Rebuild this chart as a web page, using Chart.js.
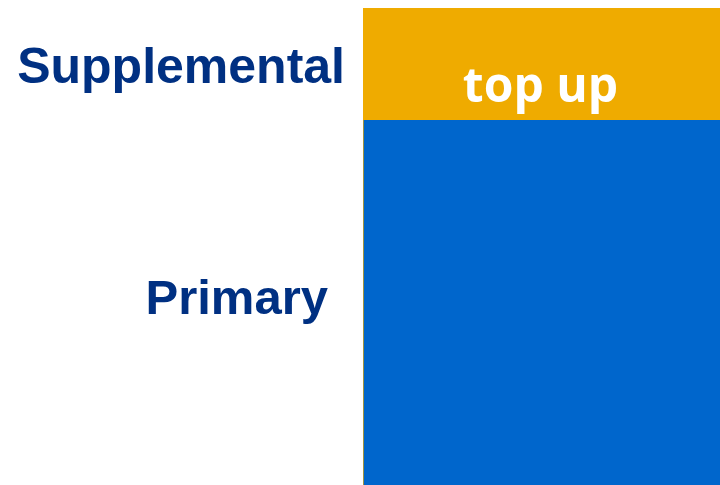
<!DOCTYPE html>
<html>
<head>
<meta charset="utf-8">
<script src="https://cdn.jsdelivr.net/npm/chart.js@4/dist/chart.umd.min.js"></script>
<style>
html,body{margin:0;padding:0;background:#fff;}
#wrap{width:720px;height:485px;position:relative;}
</style>
</head>
<body>
<div id="wrap"><canvas id="c" width="720" height="485"></canvas></div>
<script>
const categories = [""];
const seriesNames = ["Primary", "Supplemental"];
const primaryValues = [76.5];
const supplementalValues = [23.5];
const insideLabels = ["", "top up"];

const labelPlugin = {
  id: 'sideLabels',
  afterDatasetsDraw(chart) {
    const ctx = chart.ctx;
    const y = chart.scales.y;
    const area = chart.chartArea;
    const pMid = y.getPixelForValue(primaryValues[0] / 2);
    const sMid = y.getPixelForValue(primaryValues[0] + supplementalValues[0] / 2);
    ctx.save();
    ctx.fillStyle = '#003082';
    ctx.textAlign = 'right';
    ctx.textBaseline = 'alphabetic';
    ctx.font = 'bold 50px "Liberation Sans", Arial, sans-serif';
    ctx.fillText(seriesNames[1], area.left - 18, sMid + 19);
    ctx.font = 'bold 49px "Liberation Sans", Arial, sans-serif';
    ctx.fillText(seriesNames[0], area.left - 35, pMid + 11);
    ctx.fillStyle = '#ffffff';
    ctx.textAlign = 'center';
    ctx.font = 'bold 48px "Open Sans", sans-serif';
    const meta = chart.getDatasetMeta(1);
    const bar = meta.data[0];
    ctx.fillText(insideLabels[1], bar.x - 1, sMid + 38);
    ctx.restore();
  }
};

new Chart(document.getElementById('c'), {
  type: 'bar',
  data: {
    labels: categories,
    datasets: [
      { label: seriesNames[0], data: primaryValues, backgroundColor: '#0066CC',
        borderColor: '#EFAB00', borderWidth: {left: 1, top: 0, right: 0, bottom: 0}, borderSkipped: false,
        barPercentage: 1, categoryPercentage: 1 },
      { label: seriesNames[1], data: supplementalValues, backgroundColor: '#EFAB00',
        borderWidth: 0, barPercentage: 1, categoryPercentage: 1 }
    ]
  },
  options: {
    responsive: false,
    animation: false,
    layout: { padding: { left: 363, top: 8, right: 0, bottom: 0 } },
    plugins: { legend: { display: false }, tooltip: { enabled: false } },
    scales: {
      x: { stacked: true, display: false },
      y: { stacked: true, display: false, min: 0, max: 100 }
    }
  },
  plugins: [labelPlugin]
});
</script>
</body>
</html>
